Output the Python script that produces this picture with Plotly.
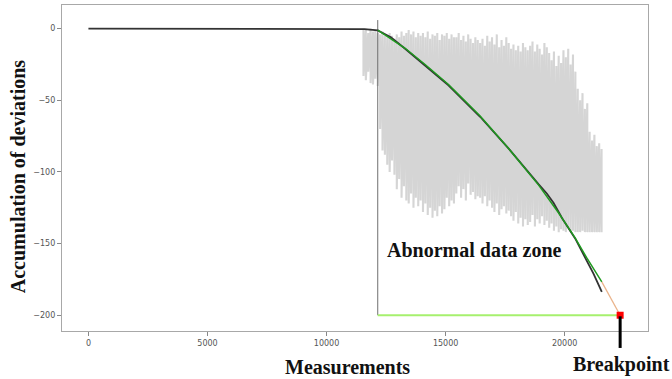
import plotly.graph_objects as go

# ---- data ----
gray_x = [11550, 11650, 11750, 11850, 11950, 12050, 12150, 12250, 12350, 12450,
          12550, 12650, 12750, 12850, 12950, 13050, 13150, 13250, 13350, 13450,
          13550, 13650, 13750, 13850, 13950, 14050, 14150, 14250, 14350, 14450,
          14550, 14650, 14750, 14850, 14950, 15050, 15150, 15250, 15350, 15450,
          15550, 15650, 15750, 15850, 15950, 16050, 16150, 16250, 16350, 16450,
          16550, 16650, 16750, 16850, 16950, 17050, 17150, 17250, 17350, 17450,
          17550, 17650, 17750, 17850, 17950, 18050, 18150, 18250, 18350, 18450,
          18550, 18650, 18750, 18850, 18950, 19050, 19150, 19250, 19350, 19450,
          19550, 19650, 19750, 19850, 19950, 20050, 20150, 20250, 20350, 20450,
          20550, 20650, 20750, 20850, 20950, 21050, 21150, 21250, 21350, 21450,
          21550]
gray_top = [0, -1, -3, 0, -2, -1, -3, -4, -2, -5,
            -6, -3, -5, -7, -4, -6, -2, -5, -3, -1,
            -4, -2, -6, -3, -5, -3, -6, -2, -7, -4,
            -5, -3, -8, -4, -5, -3, -7, -4, -6, -6,
            -3, -8, -5, -9, -4, -7, -10, -6, -8, -10,
            -7, -12, -5, -9, -6, -11, -4, -13, -8, -12,
            -6, -10, -14, -11, -15, -12, -16, -10, -13, -15,
            -12, -9, -16, -11, -14, -18, -10, -13, -17, -22,
            -16, -26, -19, -24, -15, -20, -14, -25, -18, -30,
            -42, -50, -45, -56, -52, -72, -78, -74, -82, -80,
            -84]
gray_bot = [-33, -36, -30, -38, -39, -35, -40, -70, -85, -88,
            -95, -100, -92, -102, -112, -105, -118, -110, -120, -122,
            -115, -125, -118, -124, -120, -128, -122, -130, -125, -132,
            -127, -131, -124, -129, -126, -118, -124, -120, -122, -115,
            -110, -118, -112, -120, -108, -116, -114, -119, -117, -118,
            -122, -117, -124, -120, -125, -128, -122, -130, -126, -124,
            -129, -127, -131, -134, -128, -136, -132, -138, -133, -137,
            -135, -130, -138, -133, -136, -131, -137, -134, -139, -136,
            -141, -138, -142, -140, -141, -142, -139, -142, -141, -142,
            -142, -142, -141, -142, -142, -142, -142, -142, -142, -142,
            -142]

black_x = [0, 11000, 11600, 12150, 12700, 13300, 14140, 15120, 16450, 17640,
           18900, 19250, 19530, 19900, 20440, 20930, 21210, 21560]
black_y = [0, 0, -0.3, -1.2, -6, -14, -25.5, -39.5, -61.5, -83.5,
           -108.5, -115, -121.5, -132.5, -146.4, -162.5, -171, -183.7]

green_x = [12150, 13300, 14140, 15120, 16450, 17640, 18900, 19740, 20440, 20930, 21560]
green_y = [-1, -13.7, -25, -39, -61, -83.5, -109, -128.5, -146, -160, -176.7]

zone_start = 12150
zone_top = 6
breakpoint_x = 22330
breakpoint_y = -200

x_ticks = [0, 5000, 10000, 15000, 20000]
x_tick_text = ["0", "5000", "10000", "15000", "20000"]
y_ticks = [0, -50, -100, -150, -200]
y_tick_text = ["0", "\u221250", "\u2212100", "\u2212150", "\u2212200"]

# ---- build gray zig-zag from read envelope values ----
zx, zy = [], []
for xv, t, b in zip(gray_x, gray_top, gray_bot):
    zx += [xv, xv]
    zy += [t, b]

fig = go.Figure()
fig.add_trace(go.Scatter(x=zx, y=zy, mode="lines",
                         line=dict(color="#d5d5d5", width=2.1), hoverinfo="skip"))
fig.add_trace(go.Scatter(x=[zone_start, zone_start], y=[breakpoint_y, zone_top], mode="lines",
                         line=dict(color="#707070", width=1)))
fig.add_trace(go.Scatter(x=black_x, y=black_y, mode="lines",
                         line=dict(color="#333333", width=1.8)))
fig.add_trace(go.Scatter(x=green_x, y=green_y, mode="lines",
                         line=dict(color="#1f9a1f", width=1.5)))
fig.add_trace(go.Scatter(x=[green_x[-1], breakpoint_x], y=[green_y[-1], breakpoint_y], mode="lines",
                         line=dict(color="#eab48c", width=1.3)))
fig.add_trace(go.Scatter(x=[zone_start, breakpoint_x], y=[breakpoint_y, breakpoint_y], mode="lines",
                         line=dict(color="#a6f06e", width=2)))
fig.add_trace(go.Scatter(x=[breakpoint_x], y=[breakpoint_y], mode="markers",
                         marker=dict(color="red", size=7, symbol="square")))

fig.add_shape(type="line", xref="x", yref="paper", x0=breakpoint_x, x1=breakpoint_x,
              y0=0.045, y1=-0.052, line=dict(color="black", width=3))

serif = "Liberation Serif, Times New Roman, serif"
font20 = dict(family=serif, size=20, color="#111")
fig.add_annotation(x=16200, y=-154.5, xref="x", yref="y", text="<b>Abnormal data zone</b>",
                   showarrow=False, xanchor="center", yanchor="middle", font=font20)
fig.add_annotation(x=0.488, y=-0.11, xref="paper", yref="paper", text="<b>Measurements</b>",
                   showarrow=False, xanchor="center", yanchor="middle", font=font20)
fig.add_annotation(x=0.955, y=-0.104, xref="paper", yref="paper", text="<b>Breakpoint</b>",
                   showarrow=False, xanchor="center", yanchor="middle", font=font20)
fig.add_annotation(x=-0.075, y=0.475, xref="paper", yref="paper", text="<b>Accumulation of deviations</b>",
                   textangle=-90, showarrow=False, xanchor="center", yanchor="middle", font=font20)

axis_common = dict(showgrid=False, zeroline=False, showline=True, mirror=True,
                   linecolor="#a8a8a8", linewidth=1.2, ticks="outside", ticklen=4,
                   tickcolor="#888", tickfont=dict(family="DejaVu Sans", size=8, color="#555"))
fig.update_xaxes(range=[-1110, 23500], tickvals=x_ticks, ticktext=x_tick_text, **axis_common)
fig.update_yaxes(range=[-211, 16.5], tickvals=y_ticks, ticktext=y_tick_text, **axis_common)

fig.update_layout(width=672, height=379, margin=dict(l=62, r=24, t=5, b=48),
                  paper_bgcolor="white", plot_bgcolor="white", showlegend=False)

fig.write_html("out.html", config={"displayModeBar": False},
               post_script="document.body.style.margin='0';document.body.style.overflow='hidden';")
